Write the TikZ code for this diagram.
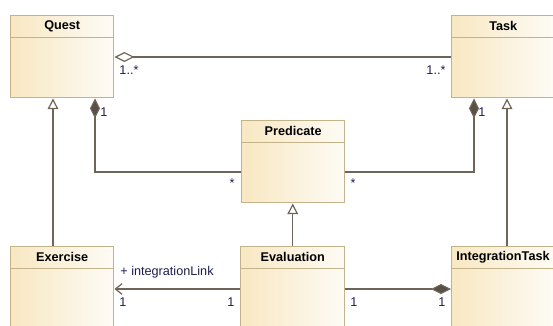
\documentclass[tikz,border=0pt]{standalone}
\usepackage{fontspec}
\setmainfont{Liberation Sans}
\usetikzlibrary{arrows.meta,calc,positioning}

\definecolor{classline}{HTML}{C4B38A}
\definecolor{classfill}{HTML}{F8E8C2}
\definecolor{connline}{HTML}{6E6457}
\definecolor{multtext}{HTML}{1E1E50}

\tikzset{
	classbox/.style={draw=classline, line width=1.1pt, left color=classfill, right color=classfill!15,
		minimum width=77.25pt, minimum height=61.5pt, inner sep=0pt, anchor=north west},
	classtitle/.style={font=\fontsize{9.5}{11}\selectfont\bfseries, minimum height=16.5pt, inner sep=0pt},
	conn/.style={draw=connline, line width=0.9pt},
	gen/.style={conn, -{Triangle[open, length=8pt, width=8pt, fill=white]}},
	aggr/.style={conn, {Diamond[open, length=15pt, width=7.5pt, fill=white]}-},
	comp/.style={conn, {Diamond[length=15pt, width=7.5pt, fill=connline!80!black]}-},
	nav/.style={conn, -{Straight Barb[length=5pt, width=8pt]}},
	mult/.style={font=\fontsize{9.5}{11}\selectfont, text=multtext, inner sep=0pt}
}

\begin{document}
\begin{tikzpicture}[x=0.75pt, y=-0.75pt]
	\useasboundingbox (0,0) rectangle (553,325);
	\clip (0,0) rectangle (553,325);

	% Classes
	\node[classbox] (quest) at (10,15) {};
	\node[classtitle, below=0pt of quest.north] (questtitle) {Quest};
	\draw[classline, line width=1.1pt] (quest.west |- questtitle.south) -- (quest.east |- questtitle.south);

	\node[classbox] (task) at (451,15) {};
	\node[classtitle, below=0pt of task.north] (tasktitle) {Task};
	\draw[classline, line width=1.1pt] (task.west |- tasktitle.south) -- (task.east |- tasktitle.south);

	\node[classbox] (predicate) at (241,120) {};
	\node[classtitle, below=0pt of predicate.north] (predicatetitle) {Predicate};
	\draw[classline, line width=1.1pt] (predicate.west |- predicatetitle.south) -- (predicate.east |- predicatetitle.south);

	\node[classbox] (exercise) at (10,246) {};
	\node[classtitle, below=0pt of exercise.north] (exercisetitle) {Exercise};
	\draw[classline, line width=1.1pt] (exercise.west |- exercisetitle.south) -- (exercise.east |- exercisetitle.south);

	\node[classbox, minimum width=78pt] (evaluation) at (240,246) {};
	\node[classtitle, below=0pt of evaluation.north] (evaluationtitle) {Evaluation};
	\draw[classline, line width=1.1pt] (evaluation.west |- evaluationtitle.south) -- (evaluation.east |- evaluationtitle.south);

	\node[classbox] (integtask) at (451,246) {};
	\node[classtitle, anchor=north west] (integtasktitle) at ($(integtask.north west)+(5,0)$) {IntegrationTask};
	\draw[classline, line width=1.1pt] (integtask.west |- integtasktitle.south) -- (integtask.east |- integtasktitle.south);

	% Quest -- Task
	\draw[aggr] ($(quest.north east)+(0,42)$) -- ($(task.north west)+(0,42)$);
	\node[mult] (questmult) at (129,70) {1..*};
	\node[mult] (taskmult) at (436,70) {1..*};

	% compositions to Predicate
	\draw[comp] ($(quest.south west)+(85,0)$) |- ($(predicate.north west)+(0,52)$);
	\draw[comp] ($(task.south west)+(23,0)$) |- ($(predicate.north east)+(0,52)$);
	\node[mult] (questone) at (104,112) {1};
	\node[mult] (taskone) at (482,112) {1};
	\node[mult] (predleft) at (232,183) {*};
	\node[mult] (predright) at (353,183) {*};

	% generalizations
	\draw[gen] ($(exercise.north west)+(43,0)$) -- ($(quest.south west)+(43,0)$);
	\draw[gen] (evaluation.north) -- (evaluation.north |- predicate.south);
	\draw[gen] ($(integtask.north west)+(56,0)$) -- ($(task.south west)+(56,0)$);

	% Evaluation links
	\draw[nav] ($(evaluation.north west)+(0,43)$) -- ($(exercise.north east)+(0,43)$);
	\draw[comp] ($(integtask.north west)+(0,43)$) -- ($(evaluation.north east)+(0,43)$);
	\node[mult] (linkname) at (167,272) {+ integrationLink};
	\node[mult] (exone) at (123,302) {1};
	\node[mult] (evalone) at (231,302) {1};
	\node[mult] (evaltwo) at (354,302) {1};
	\node[mult] (integone) at (442,302) {1};
\end{tikzpicture}
\end{document}
